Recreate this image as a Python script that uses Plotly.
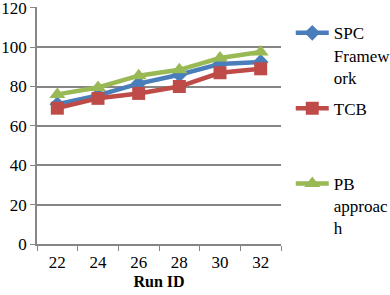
import plotly.graph_objects as go

run_ids = ["22", "24", "26", "28", "30", "32"]
spc = [71, 75.5, 81.5, 86, 91.5, 92.5]
tcb = [69, 74, 76.5, 80, 87, 89]
pb = [76, 79.5, 85.5, 88.5, 94.5, 97.5]
y_ticks = [0, 20, 40, 60, 80, 100, 120]

series = [
    ("SPC<br>Framew<br>ork", spc, "#4a7ebb", "diamond", 12),
    ("TCB<br>&nbsp;<br>&nbsp;", tcb, "#be4b48", "square", 13),
    ("PB<br>approac<br>h", pb, "#98b954", "triangle-up", 14),
]

fig = go.Figure()
for i, (name, vals, color, sym, sz) in enumerate(series):
    fig.add_trace(go.Scatter(
        x=run_ids, y=vals, name=name, mode="lines+markers",
        line=dict(color=color, width=4.5),
        marker=dict(symbol=sym, size=sz, color=color),
        legendgroup=f"g{i}",
    ))

ff = "Liberation Serif, Times New Roman, serif"
fs = 17
fig.update_layout(
    width=390, height=295,
    margin=dict(l=37, r=109, t=7, b=51, autoexpand=False),
    paper_bgcolor="white", plot_bgcolor="white",
    font=dict(family=ff, size=fs, color="black"),
    showlegend=True,
    legend=dict(
        x=1.04, y=0.965, xanchor="left", yanchor="top",
        valign="top", tracegroupgap=6, itemwidth=33,
        font=dict(family=ff, size=fs, color="black"),
        bgcolor="rgba(0,0,0,0)", borderwidth=0,
    ),
    xaxis=dict(
        type="category", range=[-0.5, 5.5], automargin=False,
        showline=True, linecolor="#868686", linewidth=1.5,
        ticks="outside", tickson="boundaries", ticklen=5, tickcolor="#868686",
        showgrid=False, ticklabelstandoff=2,
        title=dict(text="<b>Run ID</b>", font=dict(family=ff, size=16, color="black"), standoff=5),
        tickfont=dict(family=ff, size=fs, color="black"),
    ),
    yaxis=dict(
        range=[0, 120.4], tickvals=y_ticks, automargin=False,
        showline=True, linecolor="#868686", linewidth=1.5,
        ticks="outside", ticklen=5, tickcolor="#868686",
        showgrid=True, gridcolor="#868686", gridwidth=1.5,
        zeroline=False, ticklabeloverflow="allow",
        tickfont=dict(family=ff, size=fs, color="black"),
    ),
)

fig.write_html("out.html", config={"displayModeBar": False},
               post_script="document.body.style.margin='0px';")
